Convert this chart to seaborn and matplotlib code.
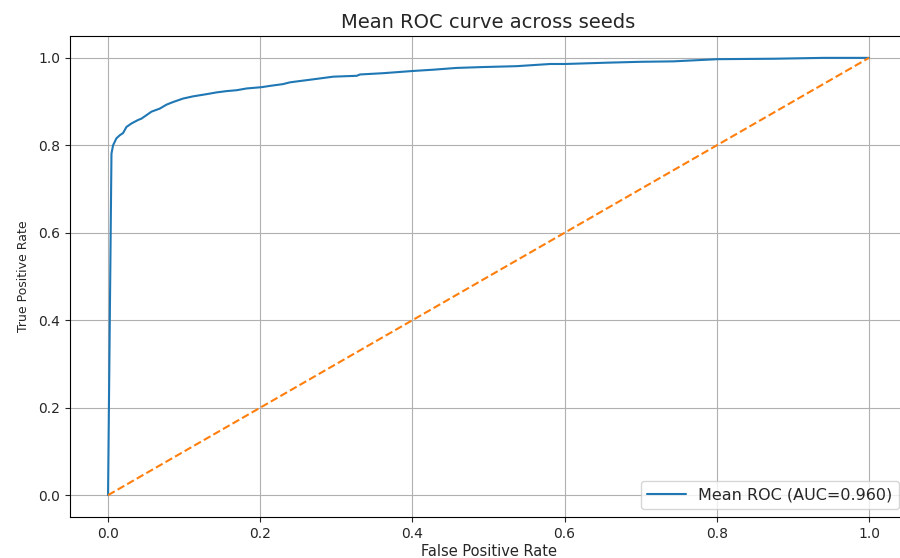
import matplotlib
matplotlib.use("Agg")
import matplotlib.pyplot as plt
import seaborn as sns
import pandas as pd

# Mean ROC curve values
fpr = [0.0, 0.0045, 0.0066, 0.011, 0.0154, 0.0197, 0.0242, 0.0308, 0.0395, 0.0439,
       0.0505, 0.0571, 0.068, 0.0768, 0.0855, 0.0987, 0.1118, 0.1295, 0.1426, 0.1558,
       0.169, 0.182, 0.202, 0.213, 0.230, 0.239, 0.252, 0.270, 0.296, 0.327,
       0.331, 0.362, 0.4005, 0.428, 0.458, 0.493, 0.537, 0.581, 0.601, 0.656,
       0.700, 0.743, 0.801, 0.875, 0.940, 1.0]
tpr = [0.0, 0.781, 0.800, 0.816, 0.823, 0.828, 0.842, 0.850, 0.858, 0.861,
       0.869, 0.877, 0.884, 0.893, 0.899, 0.907, 0.912, 0.917, 0.921, 0.924,
       0.926, 0.930, 0.933, 0.936, 0.940, 0.944, 0.947, 0.951, 0.957, 0.959,
       0.962, 0.965, 0.970, 0.973, 0.977, 0.979, 0.981, 0.986, 0.986, 0.989,
       0.991, 0.992, 0.997, 0.998, 1.0, 1.0]
auc_value = 0.960
chance_x = [0.0, 1.0]
chance_y = [0.0, 1.0]

title = "Mean ROC curve across seeds"
xlabel = "False Positive Rate"
ylabel = "True Positive Rate"
x_ticks = [0.0, 0.2, 0.4, 0.6, 0.8, 1.0]
y_ticks = [0.0, 0.2, 0.4, 0.6, 0.8, 1.0]

sns.set_style("ticks")
plt.rcParams['font.family'] = ['DejaVu Sans']

fig = plt.figure(figsize=(9, 5.58), dpi=100)
ax = fig.add_axes([70 / 900, 41 / 558, 837 / 900, 481 / 558])

roc_df = pd.DataFrame({"fpr": fpr, "tpr": tpr})
chance_df = pd.DataFrame({"x": chance_x, "y": chance_y})

sns.lineplot(data=roc_df, x="fpr", y="tpr", sort=False, ax=ax, color="#1f77b4",
             linewidth=1.5, label=f"Mean ROC (AUC={auc_value:.3f})")
sns.lineplot(data=chance_df, x="x", y="y", sort=False, ax=ax, color="#ff7f0e",
             linewidth=1.5, linestyle="--")

ax.set_xlim(-0.05, 1.05)
ax.set_ylim(-0.05, 1.05)
ax.set_xticks(x_ticks)
ax.set_yticks(y_ticks)
ax.set_xticklabels([f"{t:.1f}" for t in x_ticks], fontsize=10)
ax.set_yticklabels([f"{t:.1f}" for t in y_ticks], fontsize=10)
ax.grid(True, color="#b0b0b0", linewidth=0.8)
ax.set_axisbelow(True)
for s in ax.spines.values():
    s.set_visible(True)
    s.set_color("black")
    s.set_linewidth(0.8)

ax.set_title(title, fontsize=14, pad=6)
ax.set_xlabel(xlabel, fontsize=10.5, labelpad=2)
ax.set_ylabel(ylabel, fontsize=9, labelpad=6)
ax.legend(loc="lower right", fontsize=11.5, frameon=True, fancybox=True,
          handlelength=2.4)

fig.savefig("out.png", dpi=100)
